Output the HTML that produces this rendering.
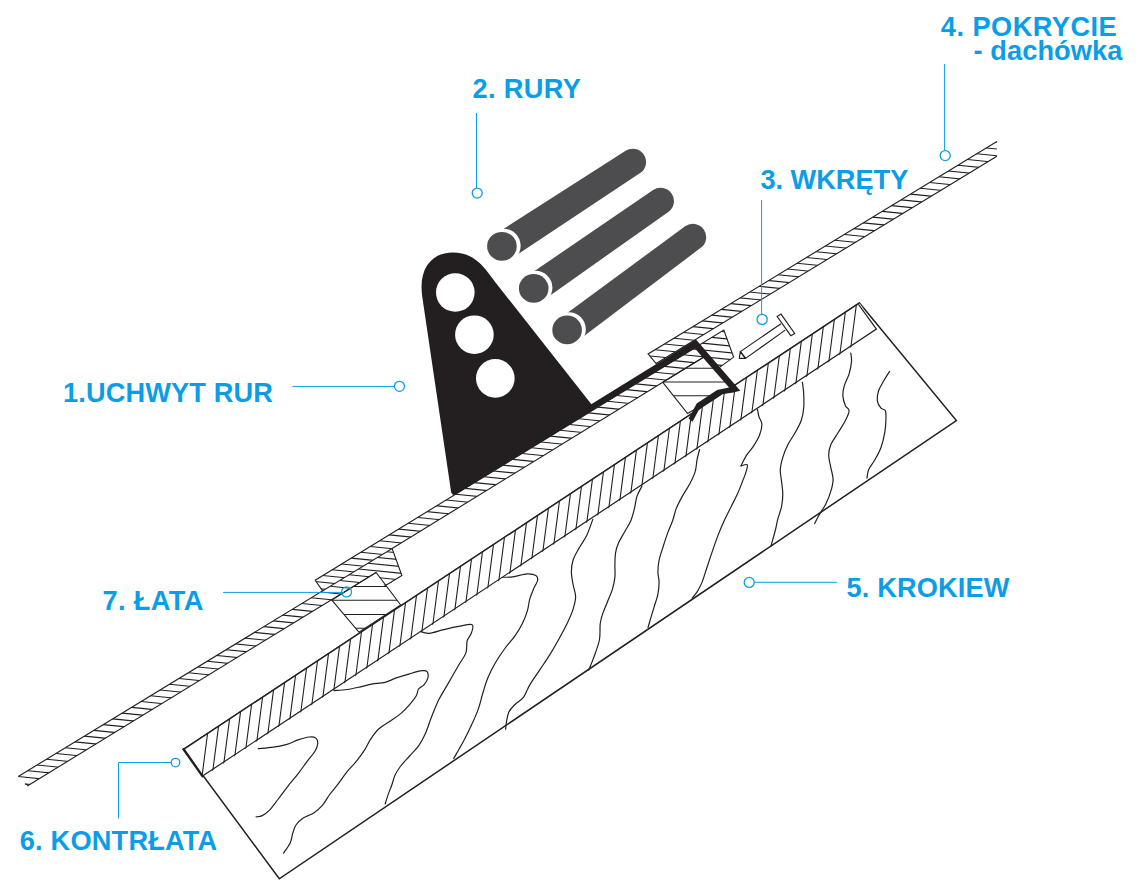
<!DOCTYPE html>
<html lang="pl">
<head>
<meta charset="utf-8">
<title>Uchwyt rur - schemat montażu</title>
<style>
html,body{margin:0;padding:0;background:#fff;}
body{width:1138px;height:896px;overflow:hidden;}
svg{display:block;}
text{font-family:"Liberation Sans",sans-serif;font-weight:700;fill:#0c9de8;}
</style>
</head>
<body>
<svg width="1138" height="896" viewBox="0 0 1138 896">
<defs>
<clipPath id="c1"><polygon points="183.6,749.3 859.5,302.9 877,330.1 203.1,777.1"/></clipPath>
<clipPath id="c2"><polygon points="331.8,600.1 376.1,572.4 400.7,605 358.9,632.1"/></clipPath>
<clipPath id="c3"><polygon points="662.8,382.3 706.7,355.3 731.3,387.9 687.6,413.6"/></clipPath>
<clipPath id="c4"><polygon points="18.2,776.5 392.1,548.5 401.9,575.5 384.7,586 376.1,572.4 27.3,786"/></clipPath>
<clipPath id="c5"><polygon points="315.2,580.2 723.8,330 733.6,357.1 716.5,369.6 706.7,355.3 392.1,548.5 322.6,590.88"/></clipPath>
<clipPath id="c6"><polygon points="648.1,353.9 996.9,141.6 996.9,156.2 656.1,363.6"/></clipPath>
</defs>
<polygon points="183.6,749.3 859.5,302.9 956.4,420.5 279.3,878.8" fill="#fff" stroke="#231f20" stroke-width="1.5" stroke-linejoin="miter"/>
<path d="M258.3,748.6C260.83,748.35 268.73,747.8 273.5,747.1C278.27,746.4 282.82,745.6 286.9,744.4C290.98,743.2 294.28,741.13 298,739.9C301.72,738.67 306.22,737.3 309.2,737C312.18,736.7 314.48,736.98 315.9,738.1C317.32,739.22 317.88,741.47 317.7,743.7C317.52,745.93 316.58,748.52 314.8,751.5C313.02,754.48 309.8,757.88 307,761.6C304.2,765.32 301.17,769.72 298,773.8C294.83,777.88 291.35,781.82 288,786.1C284.65,790.38 281.07,795.4 277.9,799.5C274.73,803.6 271.6,808.02 269,810.7C266.4,813.38 264.45,814.57 262.3,815.6C260.15,816.63 257.13,816.68 256.1,816.9" fill="none" stroke="#231f20" stroke-width="1.2" stroke-linecap="round" stroke-linejoin="round"/>
<path d="M334.2,690.6C336.35,690.42 342.72,690.13 347.1,689.5C351.48,688.87 356.4,687.7 360.5,686.8C364.6,685.9 367.6,684.85 371.7,684.1C375.8,683.35 381,683.33 385.1,682.3C389.2,681.27 392.22,679.32 396.3,677.9C400.38,676.48 405.33,675 409.6,673.8C413.87,672.6 418.98,671.07 421.9,670.7C424.82,670.33 426.1,670.4 427.1,671.6C428.1,672.8 428.38,675.73 427.9,677.9C427.42,680.07 425.75,682.75 424.2,684.6C422.65,686.45 419.92,687.15 418.6,689C417.28,690.85 417.8,693.1 416.3,695.7C414.8,698.3 412.2,701.62 409.6,704.6C407,707.58 404.03,710.8 400.7,713.6C397.37,716.4 393.32,718.8 389.6,721.4C385.88,724 381.57,726.23 378.4,729.2C375.23,732.17 372.83,735.85 370.6,739.2C368.37,742.55 367.42,745.57 365,749.3C362.58,753.03 359.08,757.88 356.1,761.6C353.12,765.32 350.08,767.88 347.1,771.6C344.12,775.32 341.17,780 338.2,783.9C335.23,787.8 331.9,791.47 329.3,795C326.7,798.53 325.2,802.12 322.6,805.1C320,808.08 317.05,810.67 313.7,812.9C310.35,815.13 305.48,816.45 302.5,818.5C299.52,820.55 297.47,822.6 295.8,825.2C294.13,827.8 293.43,831.13 292.5,834.1C291.57,837.07 291.7,839.83 290.2,843C288.7,846.17 284.62,851.42 283.5,853.1" fill="none" stroke="#231f20" stroke-width="1.2" stroke-linecap="round" stroke-linejoin="round"/>
<path d="M418.1,630.8C419.93,631.22 424.82,633.5 429.1,633.3C433.38,633.1 438.88,630.75 443.8,629.6C448.72,628.45 453.88,627.22 458.6,626.4C463.32,625.58 469.98,623.55 472.1,624.7C474.22,625.85 472.12,630.63 471.3,633.3C470.48,635.97 468.1,637.43 467.2,640.7C466.3,643.97 467.33,648.82 465.9,652.9C464.47,656.98 461.45,660.28 458.6,665.2C455.75,670.12 452.08,676.67 448.8,682.4C445.52,688.13 441.77,693.87 438.9,699.6C436.03,705.33 433.87,711.12 431.6,716.8C429.33,722.48 427.47,728.85 425.3,733.7C423.13,738.55 421.22,742.18 418.6,745.9C415.98,749.62 412.58,752.65 409.6,756C406.62,759.35 403.12,762.83 400.7,766C398.28,769.17 396.58,771.83 395.1,775C393.62,778.17 392.92,781.85 391.8,785C390.68,788.15 389.52,790.73 388.4,793.9C387.28,797.07 385.65,802.32 385.1,804" fill="none" stroke="#231f20" stroke-width="1.2" stroke-linecap="round" stroke-linejoin="round"/>
<path d="M500.3,577.3C502.35,577.22 508.1,577.37 512.6,576.8C517.1,576.23 523.42,574.1 527.3,573.9C531.18,573.7 534.18,574.5 535.9,575.6C537.62,576.7 538,578.25 537.6,580.5C537.2,582.75 534.8,586.03 533.5,589.1C532.2,592.17 530.83,595.22 529.8,598.9C528.77,602.58 528.53,607.1 527.3,611.2C526.07,615.3 524.45,619.4 522.4,623.5C520.35,627.6 517.87,631.72 515,635.8C512.13,639.88 508.47,643.5 505.2,648C501.93,652.5 498.27,657.88 495.4,662.8C492.53,667.72 490.05,672.6 488,677.5C485.95,682.4 484.73,686.88 483.1,692.2C481.47,697.52 480.25,703.67 478.2,709.4C476.15,715.13 473.25,721.28 470.8,726.6C468.35,731.92 466.35,735.98 463.5,741.3C460.65,746.62 455.33,755.63 453.7,758.5" fill="none" stroke="#231f20" stroke-width="1.2" stroke-linecap="round" stroke-linejoin="round"/>
<path d="M592.8,519.4C591.78,522.07 588.95,530.68 586.7,535.4C584.45,540.12 581.57,543.6 579.3,547.7C577.03,551.8 574.42,555.92 573.1,560C571.78,564.08 571.4,568.12 571.4,572.2C571.4,576.28 572.4,580.4 573.1,584.5C573.8,588.6 575.6,592.7 575.6,596.8C575.6,600.9 574.53,604.6 573.1,609.1C571.67,613.6 569.45,618.65 567,623.8C564.55,628.95 561.33,634.73 558.4,640C555.47,645.27 552.53,650.38 549.4,655.4C546.27,660.42 542.87,665.18 539.6,670.1C536.33,675.02 532.47,680.4 529.8,684.9C527.13,689.4 526.07,693.83 523.6,697.1C521.13,700.37 517.45,702.03 515,704.5C512.55,706.97 510.32,709.03 508.9,711.9C507.48,714.77 507.03,718.83 506.5,721.7C505.97,724.57 505.83,727.87 505.7,729.1" fill="none" stroke="#231f20" stroke-width="1.2" stroke-linecap="round" stroke-linejoin="round"/>
<path d="M641.9,486.3C641.08,487.93 638.23,492.42 637,496.1C635.77,499.78 635.53,504.3 634.5,508.4C633.47,512.5 632.43,516.82 630.8,520.7C629.17,524.58 626.73,528.02 624.7,531.7C622.67,535.38 620.12,539.32 618.6,542.8C617.08,546.28 616.22,548.92 615.6,552.6C614.98,556.28 615.02,560.82 614.9,564.9C614.78,568.98 615.32,573.02 614.9,577.1C614.48,581.18 613.63,585.3 612.4,589.4C611.17,593.5 609.13,597.6 607.5,601.7C605.87,605.8 603.82,610.32 602.6,614C601.38,617.68 600.73,619.47 600.2,623.8C599.67,628.13 600.5,634.32 599.4,640C598.3,645.68 595.38,652.88 593.6,657.9C591.82,662.92 589.52,668.07 588.7,670.1" fill="none" stroke="#231f20" stroke-width="1.2" stroke-linecap="round" stroke-linejoin="round"/>
<path d="M699.6,449.5C699.18,451.13 697.83,455.62 697.1,459.3C696.37,462.98 696.42,467.52 695.2,471.6C693.98,475.68 691.93,479.72 689.8,483.8C687.67,487.88 684.65,492 682.4,496.1C680.15,500.2 677.93,504.3 676.3,508.4C674.67,512.5 674.03,516.62 672.6,520.7C671.17,524.78 669.33,528.4 667.7,532.9C666.07,537.4 664.23,543.18 662.8,547.7C661.37,552.22 659.92,555.92 659.1,560C658.28,564.08 657.9,568.52 657.9,572.2C657.9,575.88 659.1,578.42 659.1,582.1C659.1,585.78 658.72,590.22 657.9,594.3C657.08,598.38 655.43,602.5 654.2,606.6C652.97,610.7 651.53,615.42 650.5,618.9C649.47,622.38 648.42,626.07 648,627.5" fill="none" stroke="#231f20" stroke-width="1.2" stroke-linecap="round" stroke-linejoin="round"/>
<path d="M757.5,409.4C757.75,410.63 758.27,414.33 759,416.8C759.73,419.27 761.82,421.13 761.9,424.2C761.98,427.27 760.93,431.52 759.5,435.2C758.07,438.88 755.55,442.82 753.3,446.3C751.05,449.78 748.05,452.83 746,456.1C743.95,459.37 741.83,464.27 741,465.9" fill="none" stroke="#231f20" stroke-width="1.2" stroke-linecap="round" stroke-linejoin="round"/>
<path d="M741,465.9C742.03,465.7 746.37,463.67 747.2,464.7C748.03,465.73 746.82,469.23 746,472.1C745.18,474.97 743.73,478.23 742.3,481.9C740.87,485.57 739.2,490.1 737.4,494.1C735.6,498.1 733.7,501.47 731.5,505.9C729.3,510.33 726.45,515.78 724.2,520.7C721.95,525.62 720.05,530.08 718,535.4C715.95,540.72 713.73,547.28 711.9,552.6C710.07,557.92 708.63,562.38 707,567.3C705.37,572.22 703.75,578 702.1,582.1C700.45,586.2 698.75,589.25 697.1,591.9C695.45,594.55 693.02,596.98 692.2,598" fill="none" stroke="#231f20" stroke-width="1.2" stroke-linecap="round" stroke-linejoin="round"/>
<path d="M802.4,382.4C802.62,384.25 803.48,389.2 803.7,393.5C803.92,397.8 804.12,403.7 803.7,408.2C803.28,412.7 802.63,416.4 801.2,420.5C799.77,424.6 797.35,428.72 795.1,432.8C792.85,436.88 789.75,440.92 787.7,445C785.65,449.08 784.03,453.2 782.8,457.3C781.57,461.4 780.5,465.5 780.3,469.6C780.1,473.7 781.18,477.82 781.6,481.9C782.02,485.98 782.8,490.02 782.8,494.1C782.8,498.18 782.42,502.3 781.6,506.4C780.78,510.5 778.93,514.77 777.9,518.7C776.87,522.63 776.55,525.45 775.4,530C774.25,534.55 771.73,543.33 771,546" fill="none" stroke="#231f20" stroke-width="1.2" stroke-linecap="round" stroke-linejoin="round"/>
<path d="M850.8,353C850.92,354.43 851.78,358.13 851.5,361.6C851.22,365.07 850.32,369.72 849.1,373.8C847.88,377.88 845.23,382.42 844.2,386.1C843.17,389.78 842.7,392.62 842.9,395.9C843.1,399.18 844.37,403.33 845.4,405.8C846.43,408.27 849.1,408.25 849.1,410.7C849.1,413.15 847.25,416.82 845.4,420.5C843.55,424.18 840.45,428.72 838,432.8C835.55,436.88 832.25,441.32 830.7,445C829.15,448.68 828.7,451.22 828.7,454.9C828.7,458.58 829.97,463.02 830.7,467.1C831.43,471.18 833.1,475.3 833.1,479.4C833.1,483.5 831.92,487.6 830.7,491.7C829.48,495.8 827.85,499.92 825.8,504C823.75,508.08 820.25,512.93 818.4,516.2C816.55,519.47 815.32,522.37 814.7,523.6" fill="none" stroke="#231f20" stroke-width="1.2" stroke-linecap="round" stroke-linejoin="round"/>
<path d="M889.6,371.4C888.58,373.03 885.35,377.93 883.5,381.2C881.65,384.47 879.53,387.72 878.5,391C877.47,394.28 876.88,398.03 877.3,400.9C877.72,403.77 879.65,406.57 881,408.2C882.35,409.83 884.58,408.65 885.4,410.7C886.22,412.75 886.02,416.82 885.9,420.5C885.78,424.18 885.52,428.3 884.7,432.8C883.88,437.3 882.63,443 881,447.5C879.37,452 876.95,456.12 874.9,459.8C872.85,463.48 870.02,466.53 868.7,469.6C867.38,472.67 867.28,476.77 867,478.2" fill="none" stroke="#231f20" stroke-width="1.2" stroke-linecap="round" stroke-linejoin="round"/>
<polygon points="183.6,749.3 859.5,302.9 876.4,329.1 202.5,776.1" fill="#fff" stroke="none"/>
<path d="M200.7,786.43L209.8,716.43M211.7,779.14L220.8,709.14M222.7,771.84L231.8,701.84M233.7,764.54L242.8,694.54M244.7,757.25L253.8,687.25M255.7,749.95L264.8,679.95M266.7,742.65L275.8,672.65M277.7,735.36L286.8,665.36M288.7,728.06L297.8,658.06M299.7,720.76L308.8,650.76M310.7,713.47L319.8,643.47M321.7,706.17L330.8,636.17M332.7,698.88L341.8,628.88M343.7,691.58L352.8,621.58M354.7,684.28L363.8,614.28M365.7,676.99L374.8,606.99M376.7,669.69L385.8,599.69M387.7,662.39L396.8,592.39M398.7,655.1L407.8,585.1M409.7,647.8L418.8,577.8M420.7,640.5L429.8,570.5M431.7,633.21L440.8,563.21M442.7,625.91L451.8,555.91M453.7,618.62L462.8,548.62M464.7,611.32L473.8,541.32M475.7,604.02L484.8,534.02M486.7,596.73L495.8,526.73M497.7,589.43L506.8,519.43M508.7,582.13L517.8,512.13M519.7,574.84L528.8,504.84M530.7,567.54L539.8,497.54M541.7,560.25L550.8,490.25M552.7,552.95L561.8,482.95M563.7,545.65L572.8,475.65M574.7,538.36L583.8,468.36M585.7,531.06L594.8,461.06M596.7,523.76L605.8,453.76M607.7,516.47L616.8,446.47M618.7,509.17L627.8,439.17M629.7,501.87L638.8,431.87M640.7,494.58L649.8,424.58M651.7,487.28L660.8,417.28M662.7,479.99L671.8,409.99M673.7,472.69L682.8,402.69M684.7,465.39L693.8,395.39M695.7,458.1L704.8,388.1M706.7,450.8L715.8,380.8M717.7,443.5L726.8,373.5M728.7,436.21L737.8,366.21M739.7,428.91L748.8,358.91M750.7,421.61L759.8,351.61M761.7,414.32L770.8,344.32M772.7,407.02L781.8,337.02M783.7,399.73L792.8,329.73M794.7,392.43L803.8,322.43M805.7,385.13L814.8,315.13M816.7,377.84L825.8,307.84M827.7,370.54L836.8,300.54M838.7,363.24L847.8,293.24M849.7,355.95L858.8,285.95" clip-path="url(#c1)" stroke="#231f20" stroke-width="1.1" fill="none"/>
<polyline points="183.6,749.3 859.5,302.9" fill="none" stroke="#231f20" stroke-width="1.4"/>
<polyline points="858.5,304.3 876.4,329.1 202.5,776.1" fill="none" stroke="#231f20" stroke-width="1.2"/>
<line x1="183.6" y1="749.3" x2="202.5" y2="776.1" stroke="#231f20" stroke-width="2.4" stroke-linecap="square"/>
<polygon points="331.8,600.1 376.1,572.4 400.7,605 358.9,632.1" fill="#fff" stroke="none"/>
<path d="M326.8,586.4L405.7,586.4M326.8,600.2L405.7,600.2M326.8,614.4L405.7,614.4M326.8,628.2L405.7,628.2" clip-path="url(#c2)" stroke="#231f20" stroke-width="1.05" fill="none"/>
<polygon points="662.8,382.3 706.7,355.3 731.3,387.9 687.6,413.6" fill="#fff" stroke="none"/>
<path d="M657.8,368.3L736.3,368.3M657.8,382L736.3,382M657.8,395.7L736.3,395.7" clip-path="url(#c3)" stroke="#231f20" stroke-width="1.05" fill="none"/>
<polygon points="18.2,776.5 392.1,548.5 401.9,575.5 384.7,586 376.1,572.4 27.3,786" fill="#fff" stroke="none"/>
<path d="M-39.06,804.32L30.93,811.32M-29.61,798.56L40.39,805.56M-20.16,792.79L49.84,799.79M-10.71,787.03L59.29,794.03M-1.25,781.26L68.75,788.26M8.2,775.5L78.2,782.5M17.65,769.74L87.65,776.74M27.11,763.97L97.11,770.97M36.56,758.21L106.56,765.21M46.01,752.44L116.01,759.44M55.47,746.68L125.47,753.68M64.92,740.91L134.92,747.91M74.37,735.15L144.37,742.15M83.82,729.39L153.82,736.39M93.28,723.62L163.28,730.62M102.73,717.86L172.73,724.86M112.18,712.09L182.18,719.09M121.64,706.33L191.64,713.33M131.09,700.56L201.09,707.56M140.54,694.8L210.54,701.8M149.99,689.04L219.99,696.04M159.45,683.27L229.45,690.27M168.9,677.51L238.9,684.51M178.35,671.74L248.35,678.74M187.81,665.98L257.81,672.98M197.26,660.21L267.26,667.21M206.71,654.45L276.71,661.45M216.17,648.68L286.17,655.68M225.62,642.92L295.62,649.92M235.07,637.16L305.07,644.16M244.52,631.39L314.52,638.39M253.98,625.63L323.98,632.63M263.43,619.86L333.43,626.86M272.88,614.1L342.88,621.1M282.34,608.33L352.34,615.33M291.79,602.57L361.79,609.57M301.24,596.81L371.24,603.81M310.7,591.04L380.7,598.04M320.15,585.28L390.15,592.28M329.6,579.51L399.6,586.51M339.05,573.75L409.05,580.75M348.51,567.98L418.51,574.98M357.96,562.22L427.96,569.22M367.41,556.46L437.41,563.46M376.87,550.69L446.87,557.69M386.32,544.93L456.32,551.93M395.77,539.16L465.77,546.16M405.23,533.4L475.23,540.4M414.68,527.63L484.68,534.63M424.13,521.87L494.13,528.87M433.58,516.11L503.58,523.11M443.04,510.34L513.04,517.34M452.49,504.58L522.49,511.58M461.94,498.81L531.94,505.81M471.4,493.05L541.4,500.05M480.85,487.28L550.85,494.28M490.3,481.52L560.3,488.52M499.76,475.75L569.76,482.75M509.21,469.99L579.21,476.99M518.66,464.23L588.66,471.23M528.12,458.46L598.12,465.46M537.57,452.7L607.57,459.7M547.02,446.93L617.02,453.93M556.47,441.17L626.47,448.17M565.93,435.4L635.93,442.4" clip-path="url(#c4)" stroke="#231f20" stroke-width="1.1" fill="none"/>
<polygon points="315.2,580.2 723.8,330 733.6,357.1 716.5,369.6 706.7,355.3 392.1,548.5 322.6,590.88" fill="#fff" stroke="none"/>
<path d="M255.84,609.42L325.84,616.42M265.33,603.61L335.33,610.61M274.82,597.8L344.82,604.8M284.31,591.99L354.31,598.99M293.8,586.18L363.8,593.18M303.29,580.37L373.29,587.37M312.78,574.56L382.78,581.56M322.27,568.75L392.27,575.75M331.76,562.94L401.76,569.94M341.25,557.13L411.25,564.13M350.74,551.32L420.74,558.32M360.23,545.51L430.23,552.51M369.72,539.7L439.72,546.7M379.21,533.89L449.21,540.89M388.7,528.08L458.7,535.08M398.19,522.27L468.19,529.27M407.68,516.46L477.68,523.46M417.17,510.65L487.17,517.65M426.66,504.84L496.66,511.84M436.15,499.03L506.15,506.03M445.64,493.22L515.64,500.22M455.13,487.41L525.13,494.41M464.62,481.6L534.62,488.6M474.11,475.79L544.11,482.79M483.6,469.98L553.6,476.98M493.09,464.17L563.09,471.17M502.58,458.36L572.58,465.36M512.07,452.55L582.07,459.55M521.56,446.74L591.56,453.74M531.05,440.93L601.05,447.93M540.54,435.12L610.54,442.12M550.03,429.32L620.03,436.32M559.52,423.51L629.52,430.51M569.01,417.7L639.01,424.7M578.5,411.89L648.5,418.89M587.99,406.08L657.99,413.08M597.48,400.27L667.48,407.27M606.97,394.46L676.97,401.46M616.46,388.65L686.46,395.65M625.95,382.84L695.95,389.84M635.44,377.03L705.44,384.03M644.93,371.22L714.93,378.22M654.42,365.41L724.42,372.41M663.91,359.6L733.91,366.6M673.4,353.79L743.4,360.79M682.89,347.98L752.89,354.98M692.38,342.17L762.38,349.17M701.87,336.36L771.87,343.36M711.36,330.55L781.36,337.55M720.85,324.74L790.85,331.74M730.34,318.93L800.34,325.93M739.83,313.12L809.83,320.12M749.32,307.31L819.32,314.31M758.81,301.5L828.81,308.5M768.3,295.69L838.3,302.69M777.79,289.88L847.79,296.88M787.28,284.07L857.28,291.07M796.77,278.26L866.77,285.26M806.26,272.45L876.26,279.45M815.75,266.64L885.75,273.64M825.24,260.83L895.24,267.83M834.73,255.02L904.73,262.02M844.22,249.21L914.22,256.21M853.71,243.4L923.71,250.4M863.2,237.59L933.2,244.59" clip-path="url(#c5)" stroke="#231f20" stroke-width="1.1" fill="none"/>
<polygon points="648.1,353.9 996.9,141.6 996.9,156.2 656.1,363.6" fill="#fff" stroke="none"/>
<path d="M588.15,383.3L658.15,390.3M597.62,377.54L667.62,384.54M607.09,371.78L677.09,378.78M616.56,366.01L686.56,373.01M626.03,360.25L696.03,367.25M635.5,354.48L705.5,361.48M644.97,348.72L714.97,355.72M654.44,342.95L724.44,349.95M663.91,337.19L733.91,344.19M673.38,331.43L743.38,338.43M682.85,325.66L752.85,332.66M692.32,319.9L762.32,326.9M701.79,314.13L771.79,321.13M711.26,308.37L781.26,315.37M720.73,302.6L790.73,309.6M730.2,296.84L800.2,303.84M739.67,291.07L809.67,298.07M749.14,285.31L819.14,292.31M758.61,279.55L828.61,286.55M768.08,273.78L838.08,280.78M777.55,268.02L847.55,275.02M787.02,262.25L857.02,269.25M796.49,256.49L866.49,263.49M805.96,250.72L875.96,257.72M815.43,244.96L885.43,251.96M824.9,239.19L894.9,246.19M834.37,233.43L904.37,240.43M843.84,227.67L913.84,234.67M853.31,221.9L923.31,228.9M862.78,216.14L932.78,223.14M872.25,210.37L942.25,217.37M881.72,204.61L951.72,211.61M891.19,198.84L961.19,205.84M900.66,193.08L970.66,200.08M910.13,187.32L980.13,194.32M919.6,181.55L989.6,188.55M929.07,175.79L999.07,182.79M938.54,170.02L1008.54,177.02M948.01,164.26L1018.01,171.26M957.48,158.49L1027.48,165.49M966.95,152.73L1036.95,159.73M976.42,146.96L1046.42,153.96M985.89,141.2L1055.89,148.2M995.36,135.44L1065.36,142.44M1004.83,129.67L1074.83,136.67M1014.3,123.91L1084.3,130.91M1023.77,118.14L1093.77,125.14M1033.24,112.38L1103.24,119.38M1042.71,106.61L1112.71,113.61M1052.18,100.85L1122.18,107.85M1061.65,95.09L1131.65,102.09M1071.12,89.32L1141.12,96.32M1080.59,83.56L1150.59,90.56M1090.06,77.79L1160.06,84.79M1099.53,72.03L1169.53,79.03M1109,66.26L1179,73.26M1118.47,60.5L1188.47,67.5M1127.94,54.73L1197.94,61.73M1137.41,48.97L1207.41,55.97M1146.88,43.21L1216.88,50.21M1156.35,37.44L1226.35,44.44M1165.82,31.68L1235.82,38.68M1175.29,25.91L1245.29,32.91M1184.76,20.15L1254.76,27.15M1194.23,14.38L1264.23,21.38" clip-path="url(#c6)" stroke="#231f20" stroke-width="1.1" fill="none"/>
<polygon points="331.8,600.1 376.1,572.4 400.7,605 358.9,632.1" fill="none" stroke="#231f20" stroke-width="1.12"/>
<polygon points="662.8,382.3 706.7,355.3 731.3,387.9 687.6,413.6" fill="none" stroke="#231f20" stroke-width="1.12"/>
<polyline points="376.1,572.4 27.3,786" fill="none" stroke="#231f20" stroke-width="1.12" stroke-linejoin="miter"/>
<polyline points="25,784 28.2,785" fill="none" stroke="#231f20" stroke-width="1.12" stroke-linejoin="miter"/>
<polyline points="18.2,776.5 392.1,548.5 401.9,575.5 384.7,586" fill="none" stroke="#231f20" stroke-width="1.12" stroke-linejoin="miter"/>
<polyline points="322.6,590.88 315.2,580.2 723.8,330 733.6,357.1 716.5,369.6" fill="none" stroke="#231f20" stroke-width="1.12" stroke-linejoin="miter"/>
<polyline points="392.1,548.5 706.7,355.3" fill="none" stroke="#231f20" stroke-width="1.12" stroke-linejoin="miter"/>
<polyline points="996.9,141.6 648.1,353.9 656.1,363.6 996.9,156.2" fill="none" stroke="#231f20" stroke-width="1.12" stroke-linejoin="miter"/>
<polygon points="740.3,351.6 781,323.7 785.2,330.1 745.6,358.4" fill="#fff" stroke="none"/>
<polygon points="740.3,351.6 739.3,358.4 745.6,358.4" fill="#fff" stroke="#231f20" stroke-width="1.15" stroke-linejoin="round"/>
<polyline points="781,323.7 740.3,351.6 745.6,358.4 785.2,330.1" fill="none" stroke="#231f20" stroke-width="1.15" stroke-linejoin="round"/>
<polygon points="777.1,316.5 781,314.1 794.7,333.5 790.8,335.7" fill="#fff" stroke="#231f20" stroke-width="1.15"/>
<polygon points="590,404.9 696,339.5 740.3,390.7 733.3,392.5 722,394.3 714.3,399.5 703,406.6 698.8,410.1 692.5,421.7 688.6,418.5 696.7,403.4 717.1,390 729.05,387.6 694.95,348.6 590,411.8" fill="#231f20"/>
<path d="M454.2,495.3 Q452,494.6 451.2,492.5 L422.3,297 C418.2,269.3 430.9,252.5 452.9,252.5 C476.9,252.5 485.7,270 499.3,287.3 L591.4,404.2 L591.4,411.3 Z" fill="#231f20"/>
<circle cx="455.3" cy="292.5" r="19.3" fill="#fff"/>
<circle cx="474.4" cy="334.7" r="19.3" fill="#fff"/>
<circle cx="495.3" cy="378.4" r="19.3" fill="#fff"/>
<path d="M510.47,259.16 L640.16,173.08 A13.3,13.3 0 0 0 625.63,150.8 L494.53,234.7 Z" fill="#4d4d4f"/>
<circle cx="503.6" cy="245.79" r="17.05" fill="#fff"/>
<ellipse cx="501.9" cy="246.3" rx="14.8" ry="14.4" fill="#4d4d4f"/>
<path d="M542.73,300.72 L668.28,211.96 A13.3,13.3 0 0 0 653.11,190.11 L526.07,276.74 Z" fill="#4d4d4f"/>
<circle cx="535.38" cy="287.84" r="17.05" fill="#fff"/>
<ellipse cx="533.7" cy="288.4" rx="14.8" ry="14.4" fill="#4d4d4f"/>
<path d="M575.82,342.21 L701.02,247.61 A13.3,13.3 0 0 0 685.12,226.29 L558.73,319.28 Z" fill="#4d4d4f"/>
<circle cx="568.76" cy="329.28" r="17.05" fill="#fff"/>
<ellipse cx="567.1" cy="329.9" rx="14.8" ry="14.4" fill="#4d4d4f"/>
<polyline points="292.5,386.4 394.5,386.4" fill="none" stroke="#0c9de8" stroke-width="1.0"/>
<circle cx="399.5" cy="386.3" r="5" fill="#fff" stroke="#0c9de8" stroke-width="1.3"/>
<polyline points="476.5,113 476.5,188.2" fill="none" stroke="#0c9de8" stroke-width="1.0"/>
<circle cx="477.2" cy="193.1" r="5" fill="#fff" stroke="#0c9de8" stroke-width="1.3"/>
<polyline points="761.6,200 761.6,314.4" fill="none" stroke="#0c9de8" stroke-width="1.0"/>
<circle cx="762.1" cy="319.4" r="5.1" fill="#fff" stroke="#0c9de8" stroke-width="1.3"/>
<polyline points="944.6,64 944.6,150.6" fill="none" stroke="#0c9de8" stroke-width="1.0"/>
<circle cx="945.2" cy="155.6" r="5" fill="#fff" stroke="#0c9de8" stroke-width="1.3"/>
<polyline points="836.8,582.3 754.2,582.3" fill="none" stroke="#0c9de8" stroke-width="1.0"/>
<circle cx="749.2" cy="582.4" r="5" fill="#fff" stroke="#0c9de8" stroke-width="1.3"/>
<polyline points="118.5,818.3 118.5,762.5 171.2,762.5" fill="none" stroke="#0c9de8" stroke-width="1.0"/>
<circle cx="175.5" cy="762.6" r="4.3" fill="#fff" stroke="#0c9de8" stroke-width="1.3"/>
<polyline points="223.1,592.4 343.9,592.4" fill="none" stroke="#0c9de8" stroke-width="1.0"/>
<circle cx="346.5" cy="591.9" r="5" fill="none" stroke="#0c9de8" stroke-width="1.3"/>
<text x="63.1" y="402.1" font-size="27.2px" letter-spacing="0.13">1.UCHWYT RUR</text>
<text x="472.6" y="97.7" font-size="27.2px" letter-spacing="0.35">2. RURY</text>
<text x="760.4" y="188.9" font-size="27.2px" letter-spacing="-0.02">3. WKRĘTY</text>
<text x="940.8" y="35.6" font-size="27.2px" letter-spacing="0.47">4. POKRYCIE</text>
<text x="973.6" y="60" font-size="27.2px" letter-spacing="0.07">- dachówka</text>
<text x="846.6" y="596.9" font-size="27.2px" letter-spacing="0.14">5. KROKIEW</text>
<text x="19.8" y="850" font-size="27.2px" letter-spacing="0.19">6. KONTRŁATA</text>
<text x="102.4" y="609.6" font-size="27.2px" letter-spacing="0.4">7. ŁATA</text>
</svg>
</body>
</html>
